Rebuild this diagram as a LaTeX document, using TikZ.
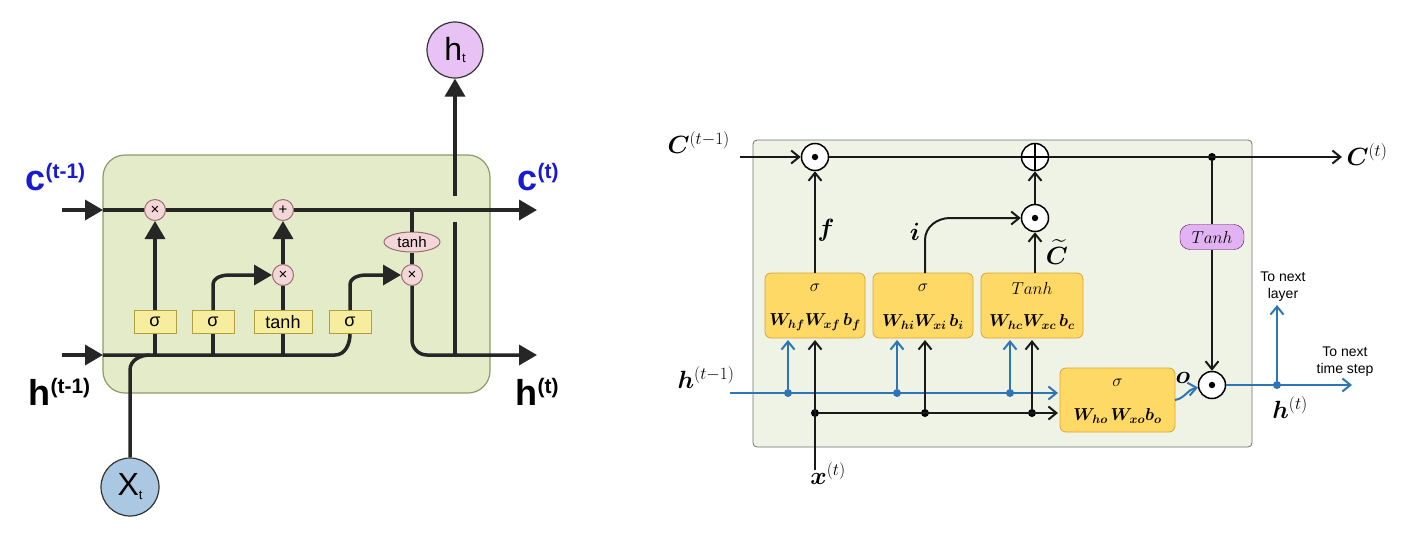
\documentclass[tikz,border=0pt]{standalone}
\usepackage{amsmath,bm}
\usepackage{fontspec}
\newfontfamily\arialf{Liberation Sans}
\usetikzlibrary{arrows.meta,shapes.geometric}
\definecolor{lgreen}{HTML}{E4EBC9}
\definecolor{lborder}{HTML}{8E9A6A}
\definecolor{pinkf}{HTML}{F3D6D8}
\definecolor{pinkb}{HTML}{9A6E72}
\definecolor{ybox}{HTML}{F6EE9E}
\definecolor{yboxb}{HTML}{B0A040}
\definecolor{rgreen}{HTML}{EEF3E6}
\definecolor{gold}{HTML}{FFD966}
\definecolor{goldb}{HTML}{D9A730}
\definecolor{bl}{HTML}{2E75B6}
\definecolor{vio}{HTML}{E2B3F2}
\definecolor{ccol}{HTML}{1A1AD0}
\begin{document}
\begin{tikzpicture}[x=1pt,y=-1pt,
  L/.style={line width=3.5pt,draw=black!85},
  LA/.style={L,-{Triangle[length=18pt,width=20pt]}},
  gate/.style={circle,draw=pinkb,fill=pinkf,line width=1pt,minimum size=21pt,inner sep=0pt,font=\arialf\fontsize{15}{15}\selectfont},
  act/.style={draw=yboxb,fill=ybox,line width=1pt,minimum height=23pt,inner sep=2pt,font=\arialf\fontsize{18}{18}\selectfont},
  big/.style={font=\arialf\bfseries\fontsize{36}{36}\selectfont},
  R/.style={line width=2pt,draw=black!90},
  RA/.style={R,-{Straight Barb[length=8pt,width=13pt]}},
  B/.style={line width=2pt,draw=bl},
  BA/.style={B,-{Straight Barb[length=8pt,width=13pt]}},
  odot/.style={circle,draw=black,fill=white,line width=1.5pt,minimum size=27pt,inner sep=0pt},
  gbox/.style={draw=goldb,fill=gold,rounded corners=6pt,line width=0.8pt},
  dot/.style={circle,fill=black,inner sep=0pt,minimum size=8pt},
  bdot/.style={circle,fill=bl,inner sep=0pt,minimum size=8pt},
  lab/.style={font=\fontsize{23}{23}\selectfont},
  note/.style={font=\arialf\fontsize{14}{17}\selectfont,align=center}]
\useasboundingbox[fill=white] (0,0) rectangle (1414,547);
% ===== LEFT =====
\draw[draw=lborder,fill=lgreen,line width=1.2pt,rounded corners=22pt] (103,155) rectangle (490,393);
\coordinate (cin) at (62,210); \coordinate (cbox) at (103,210); \coordinate (cout) at (537,210);
\coordinate (hin) at (62,355); \coordinate (hbox) at (103,355); \coordinate (hout) at (537,355);
\node[gate] (m1) at (155,210) {×};
\node[gate] (p1) at (283,210) {+};
\node[gate] (m2) at (283,275) {×};
\node[gate] (m3) at (412,275) {×};
\node[ellipse,draw=pinkb,fill=pinkf,line width=1pt,inner sep=1pt,minimum width=56pt,minimum height=20pt,font=\arialf\fontsize{15}{15}\selectfont] (th) at (412,242) {tanh};
\node[act,minimum width=42pt] (s1) at (155,322) {σ};
\node[act,minimum width=42pt] (s2) at (213,322) {σ};
\node[act,minimum width=58pt] (t1) at (283,322) {tanh};
\node[act,minimum width=42pt] (s3) at (350,322) {σ};
\node[circle,draw=black!80,fill=vio!80!white,line width=1.2pt,minimum size=56pt,inner sep=0pt,font=\arialf\fontsize{32}{32}\selectfont] (ht) at (455,50) {h\raisebox{-2pt}{\fontsize{13}{13}\selectfont t}};
\node[circle,draw=black!80,fill=bl!40!white,line width=1.2pt,minimum size=58pt,inner sep=0pt,font=\arialf\fontsize{32}{32}\selectfont] (xt) at (130,487) {X\raisebox{-4pt}{\fontsize{13}{13}\selectfont t}};
\draw[LA] (cin) -- (cbox);
\draw[LA] (hin) -- (hbox);
\draw[L] (cbox) -- (m1) -- (p1);
\draw[LA] (p1) -- (cout);
\draw[L] (hbox) -- (335,355) to[out=0,in=-90] (s3.south);
\draw[L] (xt.north) -- (130,370) to[out=90,in=180] (150,355);
\draw[LA] (s1.north) -- (m1.south);
\draw[L] (155,355) -- (s1.south);
\draw[L] (213,355) -- (s2.south);
\draw[L] (283,355) -- (t1.south);
\draw[LA] (s2.north) -- (213,285) to[out=90,in=180] (230,275) -- (m2.west);
\draw[L] (t1.north) -- (m2.south);
\draw[LA] (m2.north) -- (p1.south);
\draw[LA] (s3.north) -- (350,285) to[out=90,in=180] (367,275) -- (m3.west);
\draw[L] (412,210) -- (th.north);
\draw[L] (th.south) -- (m3.north);
\draw[LA] (m3.south) -- (412,340) to[out=-90,in=180] (427,355) -- (hout);
\draw[L] (455,355) -- (455,222);
\draw[LA] (455,196) -- (ht.south);
\node[big,text=ccol,anchor=base west] at (22,190) {c\raisebox{12pt}{\fontsize{21}{21}\selectfont (t-1)}};
\node[big,text=ccol,anchor=base west] at (514,190) {c\raisebox{12pt}{\fontsize{21}{21}\selectfont (t)}};
\node[big,anchor=base west] at (25,405) {h\raisebox{12pt}{\fontsize{21}{21}\selectfont (t-1)}};
\node[big,anchor=base west] at (512,405) {h\raisebox{12pt}{\fontsize{21}{21}\selectfont (t)}};
% ===== RIGHT =====
\draw[draw=black!55,fill=rgreen,line width=0.8pt,rounded corners=4pt] (753,140) rectangle (1252,447);
\node[odot] (o1) at (815,157) {};  \fill (o1) circle (3.2pt);
\node[odot] (op) at (1035,157) {}; \draw[line width=1.5pt] (op.north)--(op.south) (op.west)--(op.east);
\node[odot] (o2) at (1035,218) {}; \fill (o2) circle (3.2pt);
\node[odot] (o3) at (1212,385) {}; \fill (o3) circle (3.2pt);
\coordinate (cL) at (740,157); \coordinate (cR) at (1342,157);
\node[dot] (cd) at (1212,157) {};
\draw[RA] (cL) -- (o1);
\draw[R] (o1) -- (op);
\draw[RA] (op) -- (cR);
\node[anchor=west,lab] at (664,143) {$\bm{C}^{(t-1)}$};
\node[anchor=west,lab] at (1343,155) {$\bm{C}^{(t)}$};
\node[draw=violet!70!black,fill=vio,rounded corners=10pt,minimum width=64pt,minimum height=25pt,inner sep=1pt,font=\fontsize{18}{18}\selectfont] (tp) at (1212,237) {$Tanh$};
\draw[R] (cd) -- (tp);
\draw[RA] (tp) -- (o3);
% gate boxes
\newcommand{\gatebox}[6]{%
 \draw[gbox] (#1,#2) rectangle (#3,#4);
 \node[font=\fontsize{19}{19}\selectfont] at ({(#1+#3)/2},{#2+15}) {$#5$};
 \node[font=\fontsize{17}{17}\selectfont] at ({(#1+#3)/2},{#4-16}) {$#6$};}
\gatebox{765}{273}{865}{338}{\sigma}{\bm{W_{hf}W_{xf}\,b_f}}
\gatebox{873}{273}{973}{338}{\sigma}{\bm{W_{hi}W_{xi}\,b_i}}
\gatebox{981}{273}{1083}{338}{Tanh}{\bm{W_{hc}W_{xc}\,b_c}}
\gatebox{1060}{368}{1175}{432}{\sigma}{\bm{W_{ho}\,W_{xo}b_o}}
\coordinate (fT) at (815,273); \coordinate (iT) at (925,273); \coordinate (cT) at (1035,273);
\draw[RA] (fT) -- (o1);
\draw[RA] (iT) -- (925,240) to[out=90,in=180] (950,218) -- (o2);
\draw[RA] (cT) -- (o2);
\draw[RA] (o2) -- (op);
\node[lab] at (826,230) {$\bm{f}$};
\node[lab] at (915,232) {$\bm{i}$};
\node[lab] at (1057,252) {$\bm{\widetilde{C}}$};
% h(t-1) blue
\coordinate (hL) at (730,393); \coordinate (hE) at (1058,393);
\draw[BA] (hL) -- (hE);
\foreach \x/\n in {788/ba,897/bb,1010/bc}{\node[bdot] (\n) at (\x,393) {}; \draw[BA] (\n) -- (\x,340);}
\node[lab] at (706,378) {$\bm{h}^{(t-1)}$};
% x(t) black
\coordinate (xB) at (815,470);
\node[dot] (ka) at (815,413) {}; \node[dot] (kb) at (925,413) {}; \node[dot] (kc) at (1032,413) {};
\coordinate (kE) at (1058,413);
\draw[RA] (xB) -- (815,340);
\draw[RA] (ka) -- (kE);
\draw[RA] (kb) -- (925,340);
\draw[RA] (kc) -- (1032,340);
\node[lab] at (828,474) {$\bm{x}^{(t)}$};
% output
\draw[BA] (1175,400) to[out=10,in=190] (o3);
\node[lab] at (1183,378) {$\bm{o}$};
\node[bdot] (hd) at (1277,385) {};
\coordinate (hR) at (1352,385); \coordinate (hU) at (1277,305);
\draw[BA] (o3) -- (hR);
\draw[BA] (hd) -- (hU);
\node[lab] at (1290,408) {$\bm{h}^{(t)}$};
\node[note] at (1283,287) {To next\\layer};
\node[note] at (1345,362) {To next\\time step};
\end{tikzpicture}
\end{document}
